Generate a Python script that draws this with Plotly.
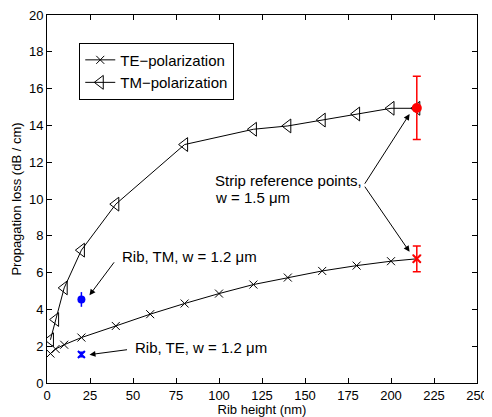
import plotly.graph_objects as go

# ---- data ----
te_height = [2, 5, 10, 20, 40, 60, 80, 100, 120, 140, 160, 180, 200, 215]
te_loss = [1.6, 1.85, 2.08, 2.47, 3.1, 3.74, 4.32, 4.86, 5.35, 5.73, 6.09, 6.38, 6.62, 6.75]

tm_height = [2, 5, 10, 20, 40, 80, 120, 140, 160, 180, 200, 215]
tm_loss = [2.35, 3.45, 5.17, 7.22, 9.72, 12.96, 13.79, 13.97, 14.29, 14.62, 14.93, 14.93]

strip_height = [215]
strip_te_loss = [6.75]
strip_te_err = [0.7]
strip_tm_loss = [14.95]
strip_tm_err = [1.72]

rib_height = [20]
rib_tm_loss = [4.54]
rib_tm_err = [0.4]
rib_te_loss = [1.55]
rib_te_err = [0.12]

x_ticks = [0, 25, 50, 75, 100, 125, 150, 175, 200, 225, 250]
y_ticks = [0, 2, 4, 6, 8, 10, 12, 14, 16, 18, 20]

FONT = "Liberation Sans, Arial, Helvetica, sans-serif"
RED = "#ff0000"
BLUE = "#0000ff"

fig = go.Figure()

fig.add_trace(go.Scatter(
    x=te_height, y=te_loss, mode="lines+markers", name="TE\u2212polarization",
    line=dict(color="black", width=1),
    marker=dict(symbol="x-thin", size=8, color="black", line=dict(color="black", width=1)),
))
fig.add_trace(go.Scatter(
    x=tm_height, y=tm_loss, mode="lines+markers", name="TM\u2212polarization",
    line=dict(color="black", width=1),
    marker=dict(symbol="triangle-left-open", size=12, color="black", line=dict(color="black", width=1)),
))

# strip reference points (red)
fig.add_trace(go.Scatter(
    x=strip_height, y=strip_tm_loss, mode="markers", showlegend=False,
    marker=dict(symbol="circle", size=10, color=RED),
    error_y=dict(type="data", array=strip_tm_err, color=RED, thickness=1.5, width=4),
))
fig.add_trace(go.Scatter(
    x=strip_height, y=strip_te_loss, mode="markers", showlegend=False,
    marker=dict(symbol="x-thin", size=8, color=RED, line=dict(color=RED, width=2)),
    error_y=dict(type="data", array=strip_te_err, color=RED, thickness=1.5, width=4),
))

# rib points (blue)
fig.add_trace(go.Scatter(
    x=rib_height, y=rib_tm_loss, mode="markers", showlegend=False,
    marker=dict(symbol="circle", size=8, color=BLUE),
    error_y=dict(type="data", array=rib_tm_err, color=BLUE, thickness=1.5, width=0),
))
fig.add_trace(go.Scatter(
    x=rib_height, y=rib_te_loss, mode="markers", showlegend=False,
    marker=dict(symbol="x-thin", size=7, color=BLUE, line=dict(color=BLUE, width=2)),
    error_y=dict(type="data", array=rib_te_err, color=BLUE, thickness=1.5, width=3),
))

ann_font = dict(family=FONT, size=15, color="black")
annotations = [
    dict(x=42.6, y=6.85, text="Rib, TM, w = 1.2 \u03bcm", showarrow=False,
         xanchor="left", yanchor="middle", font=ann_font),
    dict(x=49.9, y=1.94, text="Rib, TE, w = 1.2 \u03bcm", showarrow=False,
         xanchor="left", yanchor="middle", font=ann_font),
    dict(x=96.5, y=11.03, text="Strip reference points,", showarrow=False,
         xanchor="left", yanchor="middle", font=ann_font),
    dict(x=96.5, y=10.08, text="w = 1.5 \u03bcm", showarrow=False,
         xanchor="left", yanchor="middle", font=ann_font),
]
arrows = [
    (24.7, 4.77, 39.65, 6.64),
    (24.7, 1.54, 47.4, 1.82),
    (210.8, 14.62, 184.2, 10.75),
    (210.8, 7.13, 184.2, 10.75),
]
for hx, hy, tx, ty in arrows:
    annotations.append(dict(
        x=hx, y=hy, ax=tx, ay=ty, xref="x", yref="y", axref="x", ayref="y",
        text="", showarrow=True, arrowhead=2, arrowsize=1.2, arrowwidth=1,
        arrowcolor="black", standoff=0, startstandoff=0,
    ))

axis_common = dict(
    showline=True, linecolor="black", linewidth=1, mirror="allticks",
    ticks="inside", ticklen=5, tickcolor="black", tickwidth=1,
    showgrid=False, zeroline=False,
    tickfont=dict(family=FONT, size=13, color="black"),
    ticklabeloverflow="allow",
    automargin=False,
)

# the page body adds an 8px offset, so the figure is sized to fill the rest of the window
fig.update_layout(
    width=484, height=409,
    margin=dict(l=39, r=15, t=7, b=34),
    paper_bgcolor="white", plot_bgcolor="white",
    font=dict(family=FONT, color="black"),
    xaxis=dict(range=[0, 250], tickvals=x_ticks, ticktext=[str(v) for v in x_ticks],
               title=dict(text="Rib height (nm)", font=dict(family=FONT, size=13), standoff=0),
               **axis_common),
    yaxis=dict(range=[0, 20], tickvals=y_ticks, ticktext=[str(v) for v in y_ticks],
               title=dict(text="Propagation loss (dB / cm)", font=dict(family=FONT, size=13), standoff=4),
               **axis_common),
    legend=dict(x=0.075, y=0.925, xanchor="left", yanchor="top",
                bgcolor="white", bordercolor="black", borderwidth=1,
                font=dict(family=FONT, size=15, color="black"),
                itemwidth=30, tracegroupgap=0),
    annotations=annotations,
    showlegend=True,
)

fig.write_html("out.html")
